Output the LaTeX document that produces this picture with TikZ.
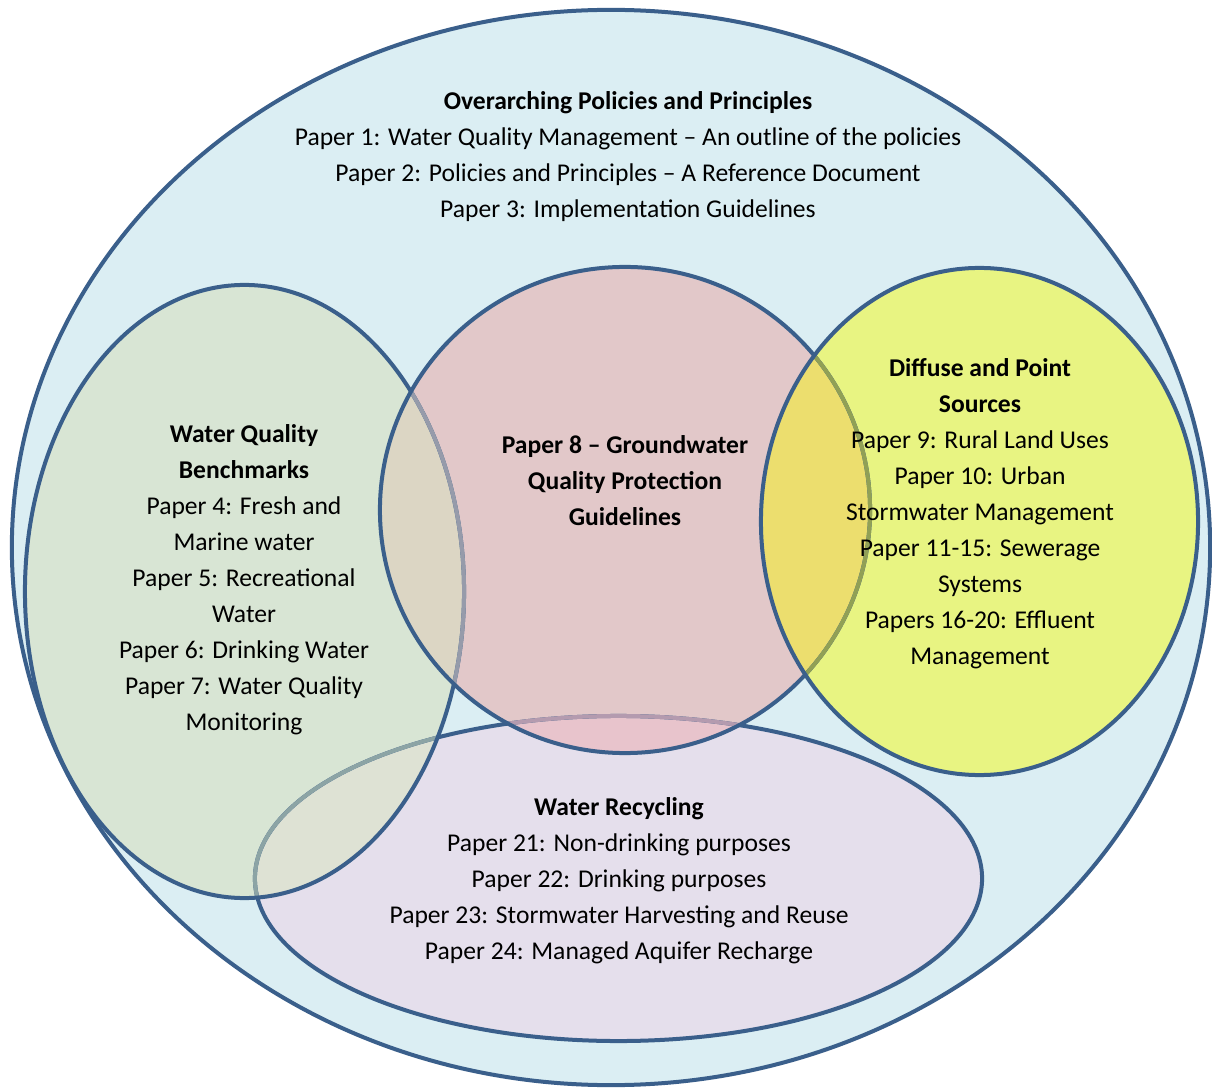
\documentclass[tikz,border=0pt]{standalone}
\usepackage{fontspec}
\setmainfont{Carlito}
\definecolor{edge}{RGB}{58,95,139}
\definecolor{outerfill}{RGB}{219,238,243}
\definecolor{greenfill}{RGB}{216,229,212}
\definecolor{pinkfill}{RGB}{226,200,201}
\definecolor{yellowfill}{RGB}{232,244,130}
\definecolor{lavfill}{RGB}{229,223,236}
\definecolor{greenlav}{RGB}{222,226,212}
\definecolor{greenpink}{RGB}{220,214,196}
\definecolor{pinklav}{RGB}{232,196,204}
\definecolor{pinkyellow}{RGB}{236,222,110}
\definecolor{edgeundergreen}{RGB}{140,164,165}
\definecolor{edgeunderpink}{RGB}{150,155,170}
\definecolor{edgeunderpinklav}{RGB}{180,155,175}
\definecolor{edgeunderyellow}{RGB}{145,160,85}
\newcommand\outerE{(611,547.5) ellipse [x radius=14.975cm, y radius=13.4375cm]}
\newcommand\lavE{(618.5,878.5) ellipse [x radius=9.0875cm, y radius=4.0625cm]}
\newcommand\greenE{(244.5,591.5) ellipse [x radius=5.4875cm, y radius=7.6625cm]}
\newcommand\pinkE{(625,510) ellipse [x radius=6.125cm, y radius=6.075cm]}
\newcommand\yelE{(979.5,521.5) ellipse [x radius=5.4625cm, y radius=6.3375cm]}
\tikzset{
  rim/.style={draw=#1, line width=0.1cm},
  settext/.style={align=center, text=black, font=\fontsize{18.2}{25.6}\selectfont, inner sep=0pt}
}
\begin{document}
\begin{tikzpicture}[x=0.025cm,y=-0.025cm]
\useasboundingbox (0,0) rectangle (1212,1089);
\fill[white] (0,0) rectangle (1212,1089);
% outer set
\path[fill=outerfill, rim=edge] \outerE;
% plain fills
\fill[lavfill] \lavE;
\fill[greenfill] \greenE;
\fill[pinkfill] \pinkE;
\fill[yellowfill] \yelE;
% overlap fills
\begin{scope}\clip \greenE; \fill[greenlav] \lavE; \end{scope}
\begin{scope}\clip \greenE; \fill[greenpink] \pinkE; \end{scope}
\begin{scope}\clip \pinkE; \fill[pinklav] \lavE; \end{scope}
\begin{scope}\clip \pinkE; \fill[pinkyellow] \yelE; \end{scope}
% borders, bottom to top
\path[rim=edge] \lavE;
\begin{scope}\clip \greenE; \path[rim=edgeundergreen] \lavE; \end{scope}
\path[rim=edge] \greenE;
\begin{scope}\clip \pinkE; \path[rim=edgeunderpink] \greenE; \path[rim=edgeunderpinklav] \lavE; \end{scope}
\path[rim=edge] \pinkE;
\begin{scope}\clip \yelE; \path[rim=edgeunderyellow] \pinkE; \end{scope}
\path[rim=edge] \yelE;

\node[settext] (overarch) at (628,157) {\textbf{Overarching Policies and Principles}\\
Paper 1: Water Quality Management -- An outline of the policies\\
Paper 2: Policies and Principles -- A Reference Document\\
Paper 3: Implementation Guidelines};

\node[settext] (bench) at (244,580) {\textbf{Water Quality}\\
\textbf{Benchmarks}\\
Paper 4: Fresh and\\
Marine water\\
Paper 5: Recreational\\
Water\\
Paper 6: Drinking Water\\
Paper 7: Water Quality\\
Monitoring};

\node[settext] (ground) at (625,481) {\textbf{Paper 8 -- Groundwater}\\
\textbf{Quality Protection}\\
\textbf{Guidelines}};

\node[settext] (diffuse) at (980,514) {\textbf{Diffuse and Point}\\
\textbf{Sources}\\
Paper 9: Rural Land Uses\\
Paper 10: Urban\\
Stormwater Management\\
Paper 11-15: Sewerage\\
Systems\\
Papers 16-20: Effluent\\
Management};

\node[settext] (recycle) at (619,881) {\textbf{Water Recycling}\\
Paper 21: Non-drinking purposes\\
Paper 22: Drinking purposes\\
Paper 23: Stormwater Harvesting and Reuse\\
Paper 24: Managed Aquifer Recharge};
\end{tikzpicture}
\end{document}
